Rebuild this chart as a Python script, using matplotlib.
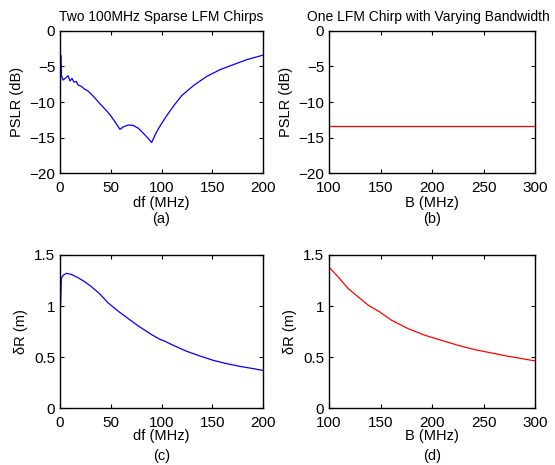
import numpy as np
import matplotlib
matplotlib.use("Agg")
import matplotlib.pyplot as plt

plt.rcParams['font.family'] = ['Liberation Sans', 'DejaVu Sans']
plt.rcParams['font.size'] = 10

# (a) PSLR vs frequency separation, two sparse chirps
df_a = [0, 0.7, 1.3, 3.0, 5.2, 7.9, 9.9, 11.8, 13.8, 16.1, 17.7, 21.0, 24.3, 27.6, 30.9,
        34.2, 37.4, 41, 45, 49.3, 54.2, 59.1, 62.4, 67.3, 72.2, 77.2, 82.1, 86.0, 90.3,
        95.2, 100.2, 106.7, 113.3, 119.9, 131.4, 144.5, 157.6, 170.8, 183.9, 200]
pslr_a = [-13.2, -3.4, -6.2, -6.9, -6.67, -6.3, -7.04, -6.67, -7.2, -7.1, -7.6, -7.8,
          -8.2, -8.45, -8.9, -9.4, -9.95, -10.5, -11.1, -11.8, -12.8, -13.85, -13.5,
          -13.24, -13.3, -13.7, -14.4, -15.0, -15.7, -14.2, -13.0, -11.6, -10.3, -9.1,
          -7.7, -6.4, -5.45, -4.74, -4.04, -3.4]

# (b) PSLR vs bandwidth, single chirp
bw_b = [100, 150, 200, 250, 300]
pslr_b = [-13.4, -13.4, -13.4, -13.4, -13.4]

# (c) range resolution vs frequency separation
df_c = [0, 0.6, 1.3, 3.0, 6.2, 11.2, 17.7, 24.3, 30.9, 39.0, 47.5, 57.5, 67.3, 77.2,
        90.3, 98.5, 103.5, 111.7, 124.8, 137.9, 151, 164.2, 177.3, 190.5, 200]
dr_c = [1.0, 1.01, 1.27, 1.30, 1.32, 1.31, 1.278, 1.238, 1.19, 1.12, 1.03, 0.948,
        0.876, 0.804, 0.719, 0.673, 0.654, 0.614, 0.556, 0.51, 0.467, 0.435, 0.408,
        0.386, 0.368]

# (d) range resolution vs bandwidth
bw_d = [100, 109, 118.7, 128.5, 138.2, 149.5, 160.8, 177, 193.2, 209.4, 225.5, 241.7,
        258, 274, 300]
dr_d = [1.382, 1.284, 1.17, 1.088, 1.007, 0.94, 0.86, 0.777, 0.713, 0.663, 0.614,
        0.572, 0.539, 0.507, 0.462]

fig = plt.figure(figsize=(5.55, 4.65), dpi=100)
W, H = 555.0, 465.0


def make_ax(x0, x1, y0, y1):
    ax = fig.add_axes([x0 / W, 1 - y1 / H, (x1 - x0) / W, (y1 - y0) / H])
    ax.tick_params(direction='in', top=True, right=True, length=3, width=0.8,
                   labelsize=11)
    ax.tick_params(axis='x', pad=6)
    ax.tick_params(axis='y', pad=3.5)
    for s in ax.spines.values():
        s.set_linewidth(1.0)
    return ax


def bottom_text(ax, label, tag, y_label, y_tag):
    # x label and panel tag placed at fixed pixel rows like the original
    pos = ax.get_position()
    xc = (pos.x0 + pos.x1) / 2
    fig.text(xc, 1 - y_label / H, label, ha='center', va='center', fontsize=10.5)
    fig.text(xc, 1 - y_tag / H, tag, ha='center', va='center', fontsize=10.5)


ax_a = make_ax(60, 263, 31, 173)
ax_b = make_ax(329, 535, 31, 173)
ax_c = make_ax(60, 263, 255, 408)
ax_d = make_ax(329, 535, 255, 408)

ax_a.plot(df_a, pslr_a, color='#0000ff', lw=0.9)
ax_a.set_xlim(0, 200)
ax_a.set_ylim(-20, 0)
ax_a.set_xticks([0, 50, 100, 150, 200])
ax_a.set_yticks([-20, -15, -10, -5, 0])
ax_a.set_ylabel('PSLR (dB)', fontsize=10.5)
ax_a.set_title('Two 100MHz Sparse LFM Chirps', fontsize=10, pad=7)
bottom_text(ax_a, 'df (MHz)', '(a)', 203, 219)

ax_b.plot(bw_b, pslr_b, color='#ff0000', lw=0.9)
ax_b.set_xlim(100, 300)
ax_b.set_ylim(-20, 0)
ax_b.set_xticks([100, 150, 200, 250, 300])
ax_b.set_yticks([-20, -15, -10, -5, 0])
ax_b.set_ylabel('PSLR (dB)', fontsize=10.5)
ax_b.set_title('One LFM Chirp with Varying Bandwidth', fontsize=10, pad=7, x=0.48)
bottom_text(ax_b, 'B (MHz)', '(b)', 203, 219)

ax_c.plot(df_c, dr_c, color='#0000ff', lw=0.9)
ax_c.set_xlim(0, 200)
ax_c.set_ylim(0, 1.5)
ax_c.set_xticks([0, 50, 100, 150, 200])
ax_c.set_yticks([0, 0.5, 1, 1.5])
ax_c.set_yticklabels(['0', '0.5', '1', '1.5'])
ax_c.set_ylabel('δR (m)', fontsize=10.5)
bottom_text(ax_c, 'df (MHz)', '(c)', 436, 456)

ax_d.plot(bw_d, dr_d, color='#ff0000', lw=0.9)
ax_d.set_xlim(100, 300)
ax_d.set_ylim(0, 1.5)
ax_d.set_xticks([100, 150, 200, 250, 300])
ax_d.set_yticks([0, 0.5, 1, 1.5])
ax_d.set_yticklabels(['0', '0.5', '1', '1.5'])
ax_d.set_ylabel('δR (m)', fontsize=10.5)
bottom_text(ax_d, 'B (MHz)', '(d)', 436, 456)

fig.savefig('out.png', dpi=100)
